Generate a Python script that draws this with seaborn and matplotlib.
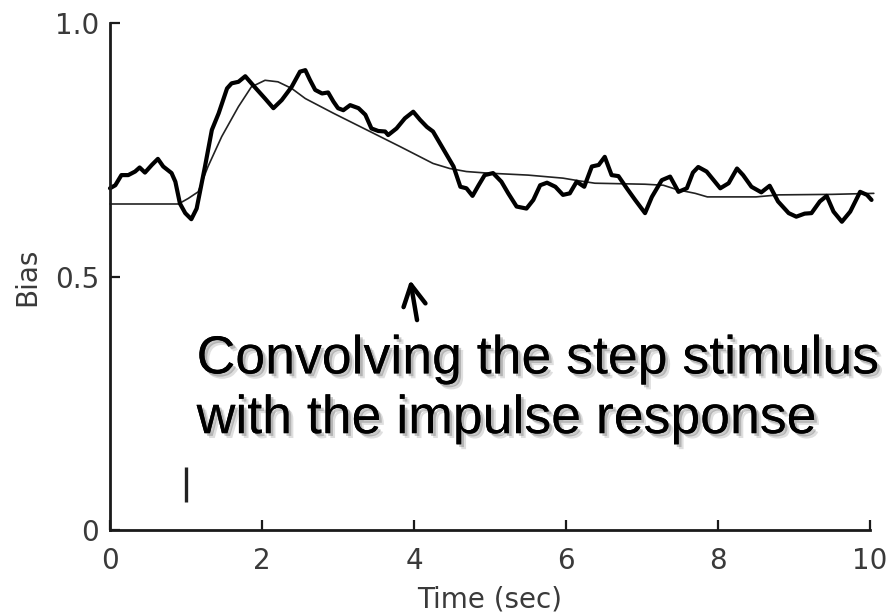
import numpy as np
import pandas as pd
import matplotlib
matplotlib.use("Agg")
import matplotlib.pyplot as plt
import matplotlib.patheffects as pe
import seaborn as sns

# ---- data ----
noisy_t = [0.00, 0.07, 0.15, 0.24, 0.33, 0.39, 0.46, 0.55, 0.63, 0.70, 0.81, 0.86,
           0.92, 0.99, 1.07, 1.14, 1.25, 1.34, 1.43, 1.54, 1.60, 1.69, 1.78, 1.89,
           2.04, 2.15, 2.26, 2.39, 2.50, 2.57, 2.63, 2.70, 2.79, 2.87, 2.94, 3.00,
           3.07, 3.16, 3.27, 3.36, 3.44, 3.53, 3.62, 3.66, 3.77, 3.88, 3.99, 4.08,
           4.17, 4.25, 4.34, 4.43, 4.52, 4.61, 4.69, 4.77, 4.85, 4.93, 5.04, 5.15,
           5.24, 5.35, 5.48, 5.57, 5.66, 5.75, 5.86, 5.96, 6.05, 6.14, 6.24, 6.34,
           6.43, 6.51, 6.60, 6.69, 6.80, 6.91, 7.04, 7.13, 7.26, 7.37, 7.48, 7.59,
           7.67, 7.74, 7.85, 8.03, 8.14, 8.25, 8.33, 8.44, 8.57, 8.68, 8.79, 8.93,
           9.03, 9.14, 9.23, 9.34, 9.43, 9.52, 9.63, 9.74, 9.87, 9.96, 10.02]
noisy_bias = [0.674, 0.680, 0.700, 0.700, 0.707, 0.715, 0.705, 0.720, 0.732, 0.717, 0.704, 0.687,
              0.644, 0.625, 0.613, 0.634, 0.717, 0.789, 0.822, 0.871, 0.881, 0.884, 0.895, 0.876,
              0.851, 0.832, 0.848, 0.874, 0.904, 0.907, 0.888, 0.868, 0.861, 0.863, 0.845, 0.832,
              0.828, 0.838, 0.832, 0.819, 0.792, 0.787, 0.786, 0.779, 0.792, 0.812, 0.825, 0.809,
              0.795, 0.786, 0.763, 0.740, 0.717, 0.677, 0.674, 0.659, 0.680, 0.700, 0.704, 0.687,
              0.664, 0.638, 0.634, 0.651, 0.680, 0.685, 0.677, 0.661, 0.664, 0.687, 0.677, 0.717,
              0.720, 0.736, 0.700, 0.698, 0.674, 0.651, 0.625, 0.657, 0.690, 0.697, 0.667, 0.674,
              0.705, 0.716, 0.707, 0.674, 0.684, 0.713, 0.700, 0.677, 0.666, 0.679, 0.648, 0.625,
              0.618, 0.624, 0.625, 0.648, 0.659, 0.628, 0.608, 0.628, 0.667, 0.661, 0.651]

smooth_t = [0.00, 0.90, 1.03, 1.16, 1.29, 1.47, 1.69, 1.86, 2.04, 2.21, 2.39, 2.57,
            2.94, 3.38, 3.82, 4.25, 4.47, 4.69, 4.96, 5.50, 5.96, 6.16, 6.38, 7.04,
            7.28, 7.47, 7.70, 7.86, 8.50, 8.80, 9.50, 10.05]
smooth_bias = [0.643, 0.643, 0.654, 0.667, 0.717, 0.776, 0.835, 0.874, 0.887, 0.884, 0.871, 0.851,
               0.822, 0.789, 0.756, 0.723, 0.713, 0.707, 0.704, 0.700, 0.694, 0.689, 0.684, 0.682,
               0.680, 0.671, 0.664, 0.657, 0.657, 0.661, 0.662, 0.664]

stim_time = [1.0]
stim_mark = [0.055, 0.124]

x_ticks = [0, 2, 4, 6, 8, 10]
x_ticklabels = ["0", "2", "4", "6", "8", "10"]
y_ticks = [0, 0.5, 1.0]
y_ticklabels = ["0", "0.5", "1.0"]

annotation = "Convolving the step stimulus\nwith the impulse response"

# ---- style ----
sns.set_style("ticks")
plt.rcParams['font.family'] = ['DejaVu Sans']

fig = plt.figure(figsize=(8.86, 6.15), dpi=100)
ax = fig.add_axes([110 / 886, 85 / 615, 760 / 886, 507 / 615])

noisy_df = pd.DataFrame({"t": noisy_t, "bias": noisy_bias})
smooth_df = pd.DataFrame({"t": smooth_t, "bias": smooth_bias})

sns.lineplot(data=smooth_df, x="t", y="bias", ax=ax, color="#222222", lw=1.2,
             estimator=None, sort=False, clip_on=False)
sns.lineplot(data=noisy_df, x="t", y="bias", ax=ax, color="black", lw=3.0,
             estimator=None, sort=False, clip_on=False, solid_joinstyle="round")

ax.vlines(stim_time, stim_mark[0], stim_mark[1], color="#222222", lw=2.4)

ax.set_xlim(0, 10)
ax.set_ylim(0, 1.0)
ax.set_xticks(x_ticks)
ax.set_xticklabels(x_ticklabels)
ax.set_yticks(y_ticks)
ax.set_yticklabels(y_ticklabels)

for s in ["top", "right"]:
    ax.spines[s].set_visible(False)
for s in ["left", "bottom"]:
    ax.spines[s].set_linewidth(2.0)
    ax.spines[s].set_color("#1a1a1a")

ax.tick_params(axis="both", direction="in", length=7, width=1.6, color="#1a1a1a",
               labelsize=20, labelcolor="#3a3a3a")
ax.tick_params(axis="x", pad=12)
ax.tick_params(axis="y", pad=8)

ax.set_xlabel("Time (sec)", fontsize=20, color="#3a3a3a", labelpad=8)
ax.set_ylabel("Bias", fontsize=20, color="#3a3a3a", labelpad=10)

ax.text(1.14, 0.191, annotation, fontsize=38.6, family=["Liberation Sans", "DejaVu Sans"],
        ha="left", va="baseline", linespacing=1.25, color="black",
        path_effects=[pe.withSimplePatchShadow(offset=(3.5, -3.5), shadow_rgbFace="0.5", alpha=0.25),
                      pe.withSimplePatchShadow(offset=(2, -2), shadow_rgbFace="0.4", alpha=0.35)])

ax.annotate("", xy=(3.95, 0.493), xytext=(4.04, 0.414),
            arrowprops=dict(arrowstyle="->,head_length=0.75,head_width=0.4", lw=3.2,
                            color="black", mutation_scale=20, shrinkA=0, shrinkB=0))

fig.savefig("out.png", dpi=100)
